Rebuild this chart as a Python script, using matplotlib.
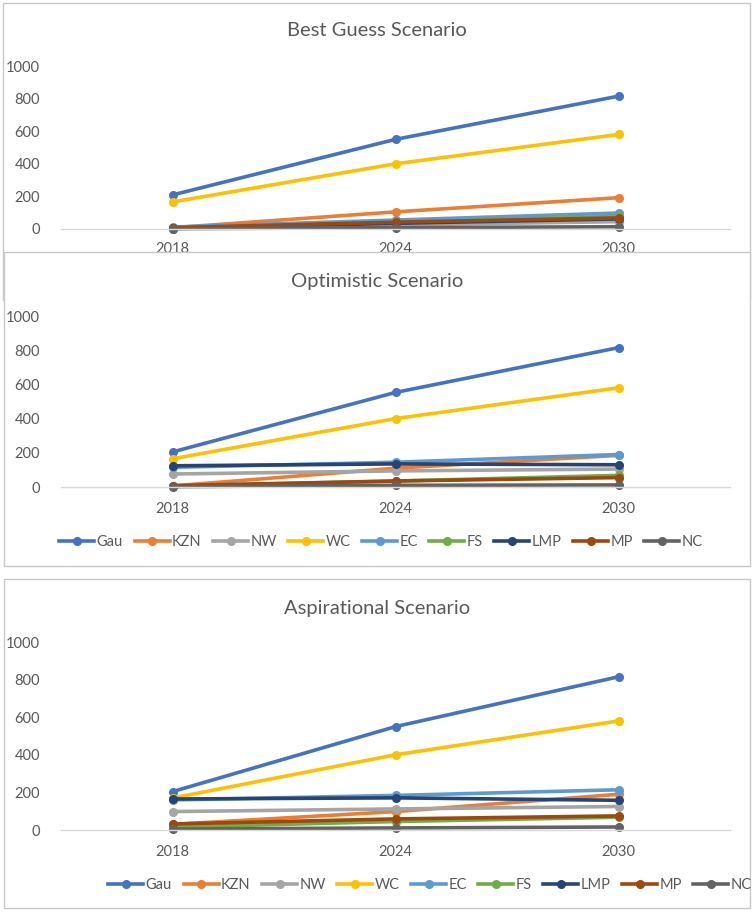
import matplotlib.pyplot as plt
from matplotlib.patches import Rectangle

plt.rcParams['font.family'] = ['Lato', 'DejaVu Sans']

# categories and series
years = ['2018', '2024', '2030']
regions = ['Gau', 'KZN', 'NW', 'WC', 'EC', 'FS', 'LMP', 'MP', 'NC']
colors = ['#4472C4', '#ED7D31', '#A5A5A5', '#FFC000', '#5B9BD5',
          '#70AD47', '#264478', '#9E480E', '#636363']

# values per region (same order as regions)
best_guess = [
    [209, 550, 815],  # Gau
    [8, 105, 192],    # KZN
    [3, 25, 45],      # NW
    [166, 400, 580],  # WC
    [12, 55, 98],     # EC
    [5, 40, 78],      # FS
    [5, 35, 62],      # LMP
    [8, 42, 68],      # MP
    [2, 8, 14],       # NC
]
optimistic = [
    [205, 553, 815],
    [6, 110, 185],
    [76, 94, 105],
    [165, 400, 580],
    [115, 145, 190],
    [5, 35, 68],
    [124, 135, 130],
    [8, 35, 55],
    [2, 10, 12],
]
aspirational = [
    [204, 550, 815],
    [30, 98, 190],
    [98, 112, 125],
    [170, 400, 580],
    [160, 184, 214],
    [15, 45, 68],
    [165, 171, 158],
    [32, 59, 75],
    [5, 11, 16],
]

W, H = 755, 913
fig = plt.figure(figsize=(W / 100, H / 100), dpi=100)


def px_rect(left, right, top, bottom):
    return [left / W, 1 - bottom / H, (right - left) / W, (bottom - top) / H]


def box(left, right, top, bottom, z):
    r = Rectangle((left / W, 1 - bottom / H), (right - left) / W, (bottom - top) / H,
                  transform=fig.transFigure, facecolor='white', edgecolor='#C8C8C8',
                  linewidth=1.0, zorder=z)
    fig.add_artist(r)


def panel(data, title, top, bottom, title_y, z, xpad=11, legend_x=None, legend_y=None):
    ax = fig.add_axes(px_rect(61, 730, top, bottom))
    ax.set_zorder(z)
    ax.patch.set_visible(False)
    x = range(len(years))
    for vals, name, c in zip(data, regions, colors):
        ax.plot(x, vals, color=c, lw=2.6, marker='o', ms=5.5, label=name, clip_on=False)
    ax.set_xlim(-0.5, 2.5)
    ax.set_ylim(0, 1000)
    ax.set_yticks([0, 200, 400, 600, 800, 1000])
    ax.set_xticks(list(x))
    ax.set_xticklabels(years)
    for s in ['top', 'right', 'left']:
        ax.spines[s].set_visible(False)
    ax.spines['bottom'].set_color('#D9D9D9')
    ax.spines['bottom'].set_linewidth(1.0)
    ax.tick_params(length=0, labelsize=10.5, colors='#595959')
    ax.tick_params(axis='y', pad=15)
    ax.tick_params(axis='x', pad=xpad)
    fig.text(377 / W, 1 - title_y / H, title, ha='center', va='center',
             fontsize=14.5, color='#595959', zorder=z)
    if legend_x is not None:
        ax.legend(loc='center', bbox_to_anchor=(legend_x / W, 1 - legend_y / H),
                  bbox_transform=fig.transFigure, ncol=9, frameon=False,
                  fontsize=10.5, handlelength=2.4, handletextpad=0.15,
                  columnspacing=0.8, labelcolor='#595959')
    return ax


# panel 1 sits under panel 2, which hides the bottom of its frame
box(3, 750, 3, 300, 0)
panel(best_guess, 'Best Guess Scenario', 66, 229, 30, 1, xpad=9.5)

box(4, 750, 252, 566, 2)
panel(optimistic, 'Optimistic Scenario', 316, 487, 282, 3, legend_x=381, legend_y=542)

box(4, 750, 579, 908, 4)
panel(aspirational, 'Aspirational Scenario', 642, 830, 608, 5, legend_x=430, legend_y=885)

fig.savefig('out.png', dpi=100)
